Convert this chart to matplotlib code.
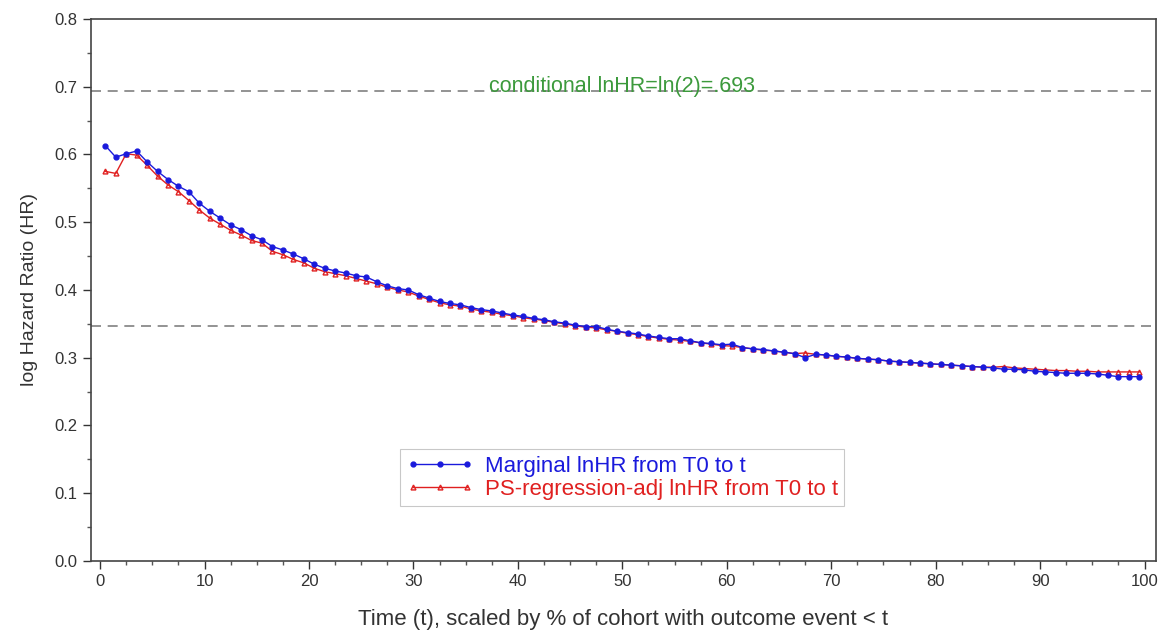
import numpy as np
import matplotlib
matplotlib.use("Agg")
import matplotlib.pyplot as plt
from matplotlib.ticker import MultipleLocator

plt.rcParams['font.family'] = ['Liberation Sans', 'DejaVu Sans']

# ── Data ──────────────────────────────────────────────────────────────────────
t_pct = np.arange(100) + 0.5

marginal_lnhr = [
    0.613, 0.596, 0.601, 0.605, 0.589, 0.575, 0.563, 0.553, 0.545, 0.528,
    0.516, 0.506, 0.496, 0.489, 0.480, 0.474, 0.464, 0.459, 0.453, 0.446,
    0.438, 0.432, 0.428, 0.425, 0.421, 0.419, 0.412, 0.406, 0.402, 0.400,
    0.393, 0.388, 0.383, 0.380, 0.378, 0.374, 0.371, 0.369, 0.366, 0.363,
    0.361, 0.358, 0.356, 0.353, 0.351, 0.348, 0.346, 0.346, 0.342, 0.339,
    0.337, 0.335, 0.332, 0.330, 0.328, 0.328, 0.325, 0.322, 0.321, 0.319,
    0.320, 0.315, 0.313, 0.312, 0.310, 0.308, 0.306, 0.300, 0.305, 0.304,
    0.302, 0.301, 0.299, 0.298, 0.297, 0.295, 0.294, 0.293, 0.292, 0.291,
    0.290, 0.289, 0.288, 0.287, 0.286, 0.285, 0.283, 0.283, 0.282, 0.280,
    0.279, 0.278, 0.277, 0.277, 0.277, 0.276, 0.274, 0.272, 0.272, 0.272,
]

ps_adj_lnhr = [
    0.575, 0.572, 0.601, 0.599, 0.584, 0.568, 0.555, 0.545, 0.532, 0.518,
    0.506, 0.497, 0.488, 0.481, 0.473, 0.469, 0.457, 0.452, 0.445, 0.440,
    0.432, 0.427, 0.424, 0.421, 0.417, 0.413, 0.409, 0.404, 0.400, 0.397,
    0.391, 0.386, 0.381, 0.378, 0.376, 0.372, 0.369, 0.367, 0.364, 0.362,
    0.359, 0.357, 0.355, 0.352, 0.350, 0.347, 0.345, 0.344, 0.341, 0.339,
    0.336, 0.334, 0.331, 0.329, 0.327, 0.326, 0.324, 0.322, 0.320, 0.318,
    0.317, 0.315, 0.313, 0.311, 0.310, 0.308, 0.306, 0.307, 0.305, 0.304,
    0.302, 0.301, 0.299, 0.298, 0.297, 0.295, 0.294, 0.293, 0.292, 0.291,
    0.290, 0.289, 0.288, 0.287, 0.286, 0.286, 0.287, 0.285, 0.284, 0.283,
    0.282, 0.281, 0.281, 0.280, 0.280, 0.279, 0.279, 0.279, 0.279, 0.279,
]

COND_LNHR = 0.693
HALF_LNHR = 0.3466

# ── Plot ──────────────────────────────────────────────────────────────────────
fig = plt.figure(figsize=(11.63, 6.31), dpi=100)
ax = fig.add_axes([0.078, 0.111, 0.916, 0.859])

ax.axhline(COND_LNHR, color="#808080", linestyle=(0, (6, 4)), linewidth=1.2, zorder=1)
ax.axhline(HALF_LNHR, color="#808080", linestyle=(0, (6, 4)), linewidth=1.2, zorder=1)
ax.text(50, 0.701, "conditional lnHR=ln(2)=.693", color="#3c9a3c",
        fontsize=15.5, ha="center", va="center")

ax.plot(t_pct, marginal_lnhr, color="#1a1adc", marker="o", markersize=3.5,
        linewidth=1.0, label="Marginal lnHR from T0 to t", zorder=3)
ax.plot(t_pct, ps_adj_lnhr, color="#e02020", marker="^", markersize=3.5,
        markerfacecolor="none", markeredgewidth=1.0, linewidth=1.0,
        label="PS-regression-adj lnHR from T0 to t", zorder=2)

ax.set_xlim(-0.9, 101.1)
ax.set_ylim(0.0, 0.8)
ax.xaxis.set_major_locator(MultipleLocator(10))
ax.xaxis.set_minor_locator(MultipleLocator(2.5))
ax.yaxis.set_major_locator(MultipleLocator(0.1))
ax.yaxis.set_minor_locator(MultipleLocator(0.05))
ax.yaxis.set_major_formatter(matplotlib.ticker.FormatStrFormatter("%.1f"))
ax.tick_params(which="major", direction="out", length=6, width=1,
               labelsize=12, colors="#333333")
ax.tick_params(which="minor", direction="out", length=3, width=1, colors="#555555")
for sp in ax.spines.values():
    sp.set_color("#444444")
    sp.set_linewidth(1.2)

ax.set_xlabel("Time (t), scaled by % of cohort with outcome event < t",
              fontsize=16, color="#333333", labelpad=14)
ax.set_ylabel("log Hazard Ratio (HR)", fontsize=14, color="#333333", labelpad=12)

leg = ax.legend(loc="lower left", bbox_to_anchor=(0.28, 0.08), numpoints=3,
                fontsize=16, frameon=True, fancybox=False, edgecolor="#bbbbbb",
                labelcolor="linecolor", handlelength=3.0, handletextpad=0.5,
                borderpad=0.3, labelspacing=0.1)
leg.get_frame().set_linewidth(0.8)

fig.savefig("out.png", dpi=100)
